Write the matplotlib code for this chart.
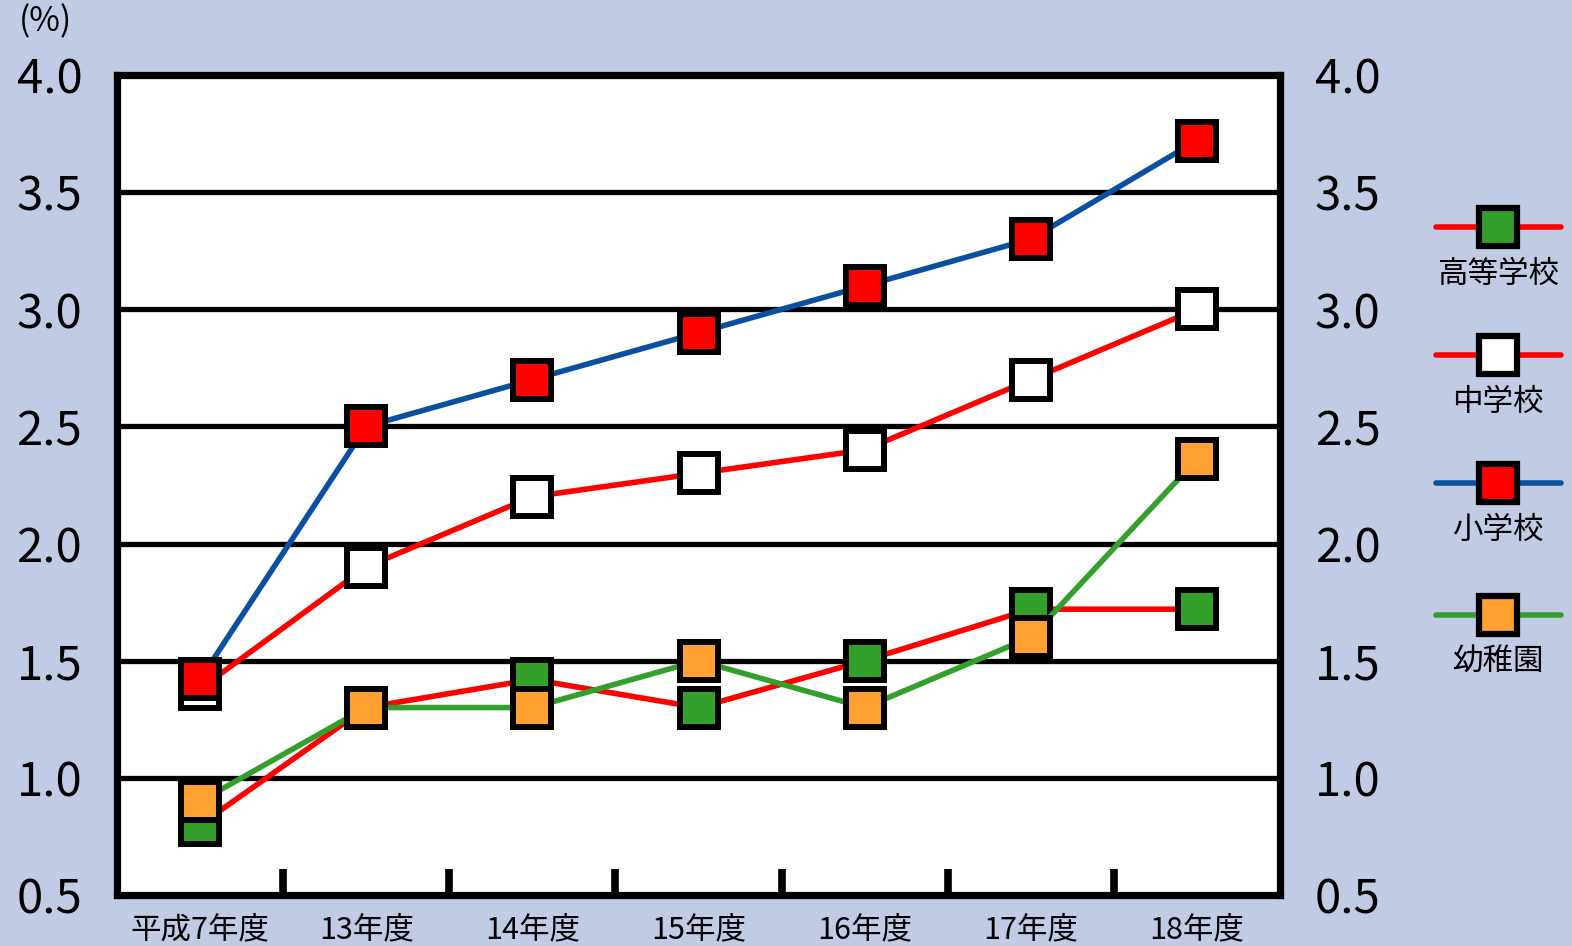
import matplotlib
matplotlib.use("Agg")
import matplotlib.pyplot as plt
from matplotlib.lines import Line2D

plt.rcParams['font.family'] = ['Noto Sans CJK JP', 'DejaVu Sans']

categories = ["平成7年度", "13年度", "14年度", "15年度", "16年度", "17年度", "18年度"]
yticks = [0.5, 1.0, 1.5, 2.0, 2.5, 3.0, 3.5, 4.0]
ytick_labels = ["0.5", "1.0", "1.5", "2.0", "2.5", "3.0", "3.5", "4.0"]

chugakko = [1.38, 1.9, 2.2, 2.3, 2.4, 2.7, 3.0]      # 中学校
shogakko = [1.42, 2.5, 2.7, 2.9, 3.1, 3.3, 3.72]     # 小学校
kotogakko = [0.8, 1.3, 1.42, 1.3, 1.5, 1.72, 1.72]   # 高等学校
yochien = [0.9, 1.3, 1.3, 1.5, 1.3, 1.6, 2.36]       # 幼稚園

BG = "#C1CBE3"
RED = "#FF0000"
BLUE = "#0B50A0"
GREEN = "#33A02C"
ORANGE = "#FFA033"

series = [
    ("中学校", chugakko, RED, "white"),
    ("小学校", shogakko, BLUE, RED),
    ("高等学校", kotogakko, RED, GREEN),
    ("幼稚園", yochien, GREEN, ORANGE),
]

W, H = 1572, 946
fig = plt.figure(figsize=(W / 100, H / 100), dpi=100, facecolor=BG)
ax = fig.add_axes([117 / W, 1 - 895 / H, (1280 - 117) / W, (895 - 75) / H])
ax.set_facecolor("white")

x = list(range(len(categories)))
for name, vals, lc, mc in series:
    ax.plot(x, vals, color=lc, lw=4, marker="s", markersize=27,
            markerfacecolor=mc, markeredgecolor="black", markeredgewidth=4.3,
            zorder=3, clip_on=False, solid_capstyle="round")

ax.set_xlim(-0.5, len(categories) - 0.5)
ax.set_ylim(0.5, 4.0)

for v in yticks[1:-1]:
    ax.axhline(v, color="black", lw=3.8, zorder=1)

for s in ax.spines.values():
    s.set_linewidth(5.2)
    s.set_color("black")
    s.set_zorder(4)

ax.set_yticks(yticks)
ax.set_yticklabels(ytick_labels)
ax.tick_params(axis="y", length=0, labelsize=34, pad=25, left=True, right=True,
               labelleft=True, labelright=True)

ax.set_xticks([i + 0.5 for i in range(len(categories) - 1)])
ax.set_xticklabels([])
ax.tick_params(axis="x", which="major", direction="in", length=19, width=5.5,
               color="black")
ax.set_xticks(x, minor=True)
ax.set_xticklabels(categories, minor=True)
ax.tick_params(axis="x", which="minor", length=0, labelsize=22, pad=14)

fig.text(45 / W, 1 - 22 / H, "(%)", fontsize=24, ha="center", va="center")

# legend (pixel-based coordinate system on a blank axes)
leg = fig.add_axes([1430 / W, 0, 138 / W, 1])
leg.set_xlim(1430, 1568)
leg.set_ylim(H, 0)
leg.axis("off")
leg_items = [
    ("高等学校", RED, GREEN),
    ("中学校", RED, "white"),
    ("小学校", BLUE, RED),
    ("幼稚園", GREEN, ORANGE),
]
marker_y = [227, 355, 483, 615]
for (name, lc, mc), yy in zip(leg_items, marker_y):
    leg.add_line(Line2D([1436, 1561], [yy, yy], color=lc, lw=4,
                        solid_capstyle="round"))
    leg.add_line(Line2D([1498], [yy], marker="s", markersize=28,
                        markerfacecolor=mc, markeredgecolor="black",
                        markeredgewidth=4.5, linestyle="none"))
    leg.text(1498, yy + 47, name, fontsize=22, ha="center", va="center")

fig.savefig("out.png", dpi=100, facecolor=BG)
